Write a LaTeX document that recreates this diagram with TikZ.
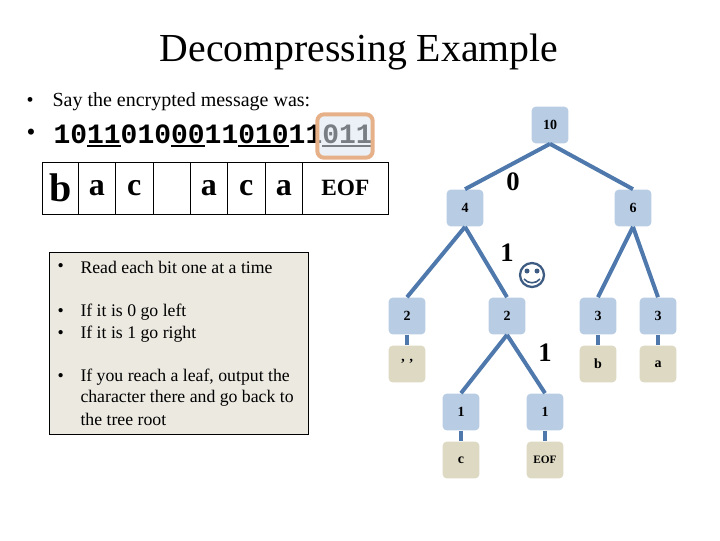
\documentclass[tikz,border=0pt]{standalone}
\usepackage{fontspec}
\setmainfont{Liberation Serif}
\newfontfamily\bitsfont{Liberation Mono}[BoldFont={Liberation Mono Bold}]
\newcommand{\ulbits}[1]{\setbox0=\hbox{#1}\rlap{\rule[-3pt]{\wd0}{2.1pt}}\box0\relax}
\tikzset{every picture/.style={line width=0.75pt}}
\tikzset{
treebox/.style={rounded corners=3pt, minimum width=27.5pt, minimum height=27.5pt, inner sep=0pt, font=\fontsize{10.5}{12}\selectfont\bfseries},
inner box/.style={treebox, fill={rgb, 255:red, 184; green, 204; blue, 228 }},
leaf box/.style={treebox, fill={rgb, 255:red, 221; green, 217; blue, 195 }},
tree edge/.style={draw={rgb, 255:red, 79; green, 121; blue, 172 }, line width=3pt},
table cell/.style={draw, minimum height=39pt, inner sep=0pt, font=\fontsize{24}{26}\selectfont\bfseries},
bit label/.style={inner sep=0.75pt, font=\fontsize{20}{24}\selectfont\bfseries},
body text/.style={anchor=west, inner sep=0pt, font=\fontsize{13.3}{15}\selectfont}}

\begin{document}
\begin{tikzpicture}[x=0.75pt,y=0.75pt,yscale=-1,xscale=1]
\useasboundingbox (0,0) rectangle (720,540);

% Title
\node (title) [inner sep=0pt, font=\fontsize{29.8}{34}\selectfont] at (359,52) {Decompressing Example};

% Text Node
\node (dotsay) [body text, font=\fontsize{15}{17}\selectfont] at (26,102) {\textbullet};
\node (say) [body text, font=\fontsize{15}{17}\selectfont] at (52,102) {Say the encrypted message was:};
\node (dotbits) [body text, font=\fontsize{19}{21}\selectfont] at (26,135) {\textbullet};
\node (bits) [anchor=west, inner sep=0pt, font=\bitsfont\fontsize{21}{24}\selectfont\bfseries] at (53,136) {10\ulbits{11}010\ulbits{00}11\ulbits{010}11\ulbits{011}};

%Orange highlight
\node (mark) [draw={rgb, 255:red, 230; green, 176; blue, 136 }, fill={rgb, 255:red, 220; green, 230; blue, 241 }, fill opacity=0.55, line width=3pt, rounded corners=5pt, minimum width=41.5pt, minimum height=32.5pt, inner sep=0pt] at (345,136) {};

%Table of decoded symbols
\node (cellb) [table cell, minimum width=27pt, font=\fontsize{30}{32}\selectfont\bfseries] at (60.3,188.3) {b};
\node (cella) [table cell, minimum width=27.75pt] at (96.8,188.3) {a};
\node (cellc) [table cell, minimum width=28.5pt] at (134.3,188.3) {c};
\node (cellsp) [table cell, minimum width=27.75pt] at (171.8,188.3) {};
\node (cellaa) [table cell, minimum width=27.75pt] at (208.8,188.3) {a};
\node (cellcc) [table cell, minimum width=28.5pt] at (246.3,188.3) {c};
\node (cellaaa) [table cell, minimum width=27.75pt] at (283.8,188.3) {a};
\node (celleof) [table cell, minimum width=64.5pt, font=\fontsize{17.5}{20}\selectfont\bfseries] at (345.3,188.3) {EOF};

%Rules box
\node (rules) [draw, fill={rgb, 255:red, 236; green, 233; blue, 225 }, minimum width=194.25pt, minimum height=136.5pt, inner sep=0pt] at (178.5,343) {};

% Text Node
\node (dotread) [body text] at (57,267) {\textbullet};
\node (read) [body text] at (80,267) {Read each bit one at a time};
\node (dotzero) [body text] at (57,312) {\textbullet};
\node (zero) [body text] at (80,312) {If it is 0 go left};
\node (dotone) [body text] at (57,334) {\textbullet};
\node (one) [body text] at (80,334) {If it is 1 go right};
\node (dotleaf) [body text] at (57,377) {\textbullet};
\node (leaf) [body text] at (80,377) {If you reach a leaf, output the};
\node (leafb) [body text] at (80,398) {character there and go back to};
\node (leafc) [body text] at (80,419) {the tree root};

%Tree nodes
\node (root) [inner box] at (550,125) {10};
\node (n4) [inner box] at (465,208) {4};
\node (n6) [inner box] at (633,208) {6};
\node (n2l) [inner box] at (407,316) {2};
\node (n2r) [inner box] at (507,316) {2};
\node (n3l) [inner box] at (598,316) {3};
\node (n3r) [inner box] at (658,316) {3};
\node (n1l) [inner box] at (461,412) {1};
\node (n1r) [inner box] at (545,412) {1};
\node (space) [leaf box] at (407,364) {' '};
\node (b) [leaf box] at (598,364) {b};
\node (a) [leaf box] at (658,364) {a};
\node (c) [leaf box] at (461,460) {c};
\node (eof) [leaf box, font=\fontsize{8.5}{10}\selectfont\bfseries] at (545,460) {EOF};

%Tree edges
\draw [tree edge] (root.south) -- (n4.north);
\draw [tree edge] (root.south) -- (n6.north);
\draw [tree edge] (n4.south) -- (n2l.north);
\draw [tree edge] (n4.south) -- (n2r.north);
\draw [tree edge] (n6.south) -- (n3l.north);
\draw [tree edge] (n6.south) -- (n3r.north);
\draw [tree edge] (n2l.south) -- (space.north);
\draw [tree edge] (n2r.south) -- (n1l.north);
\draw [tree edge] (n2r.south) -- (n1r.north);
\draw [tree edge] (n3l.south) -- (b.north);
\draw [tree edge] (n3r.south) -- (a.north);
\draw [tree edge] (n1l.south) -- (c.north);
\draw [tree edge] (n1r.south) -- (eof.north);

% Text Node
\node (bit0) [bit label] at (513,182) {0};
\node (bit1) [bit label] at (507,253) {1};
\node (bit1b) [bit label] at (545,353) {1};

%Smiley
\node (smiley) [circle, draw={rgb, 255:red, 62; green, 92; blue, 130 }, line width=1.7pt, minimum size=18pt, inner sep=0pt] at (532,275) {};
\fill [fill={rgb, 255:red, 62; green, 92; blue, 130 }] (527,271) circle (2.5) (537,271) circle (2.5);
\draw [draw={rgb, 255:red, 62; green, 92; blue, 130 }, line width=1.2pt] (524,279) .. controls (528,284) and (536,284) .. (540,279);

\end{tikzpicture}
\end{document}
